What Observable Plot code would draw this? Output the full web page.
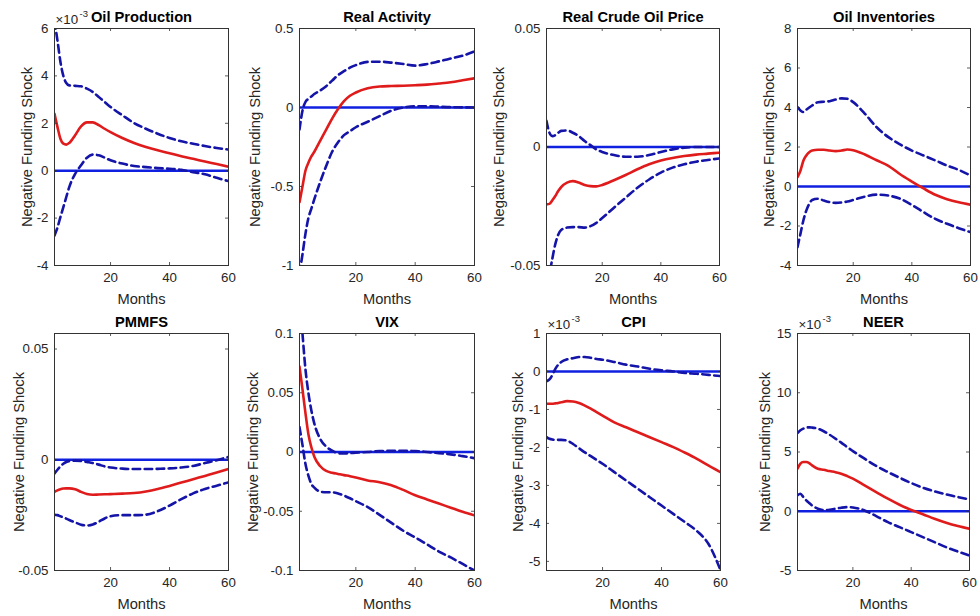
<!DOCTYPE html>
<html>
<head>
<meta charset="utf-8">
<script src="https://cdn.jsdelivr.net/npm/d3@7"></script>
<script src="https://cdn.jsdelivr.net/npm/@observablehq/plot@0.6"></script>
<style>
  body { margin: 0; background: #fff; }
  #chart { position: relative; width: 980px; height: 616px; overflow: hidden; background: #fff; }
  #chart svg { position: absolute; }
</style>
</head>
<body>
<div id="chart"></div>
<script>
// ---------- data ----------
const months = [1, 2, 3, 4, 5, 6, 8, 10, 12, 14, 16, 18, 20, 24, 28, 32, 36, 40, 44, 48, 52, 56, 60];
const xTicks = [20, 40, 60];
const titles = ["Oil Production", "Real Activity", "Real Crude Oil Price", "Oil Inventories", "PMMFS", "VIX", "CPI", "NEER"];
const exponents = ["-3", null, null, null, null, null, "-3", "-3"];
const yDomains = [[-4, 6], [-1, 0.5], [-0.05, 0.05], [-4, 8], [-0.05, 0.057], [-0.1, 0.1], [-5.24, 1], [-5, 15]];
const yTicks = [
  [-4, -2, 0, 2, 4, 6],
  [-1, -0.5, 0, 0.5],
  [-0.05, 0, 0.05],
  [-4, -2, 0, 2, 4, 6, 8],
  [-0.05, 0, 0.05],
  [-0.1, -0.05, 0, 0.05, 0.1],
  [-5, -4, -3, -2, -1, 0, 1],
  [-5, 0, 5, 10, 15]
];

// Oil Production (x10^-3)
const oilProdIrf   = [2.4, 1.85, 1.35, 1.14, 1.1, 1.17, 1.5, 1.87, 2.04, 2.04, 1.92, 1.77, 1.63, 1.38, 1.17, 1.0, 0.86, 0.74, 0.61, 0.5, 0.39, 0.28, 0.17];
const oilProdUpper = [6.3, 5.5, 4.6, 4.0, 3.7, 3.6, 3.58, 3.56, 3.46, 3.32, 3.11, 2.9, 2.69, 2.34, 2.01, 1.77, 1.56, 1.38, 1.24, 1.14, 1.04, 0.96, 0.89];
const oilProdLower = [-2.73, -2.4, -1.96, -1.54, -1.11, -0.69, -0.13, 0.23, 0.55, 0.68, 0.65, 0.55, 0.44, 0.3, 0.2, 0.15, 0.11, 0.08, 0.04, -0.06, -0.15, -0.3, -0.44];

// Real Activity
const realActIrf   = [-0.6, -0.5, -0.4, -0.35, -0.31, -0.28, -0.21, -0.14, -0.07, -0.01, 0.04, 0.074, 0.095, 0.122, 0.133, 0.136, 0.138, 0.141, 0.145, 0.152, 0.16, 0.172, 0.185];
const realActUpper = [-0.14, -0.02, 0.035, 0.055, 0.07, 0.085, 0.108, 0.135, 0.17, 0.205, 0.23, 0.252, 0.268, 0.289, 0.29, 0.284, 0.275, 0.265, 0.275, 0.292, 0.31, 0.328, 0.355];
const realActLower = [-1.05, -0.93, -0.8, -0.7, -0.64, -0.58, -0.47, -0.37, -0.28, -0.22, -0.175, -0.15, -0.125, -0.09, -0.055, -0.02, 0.0, 0.008, 0.008, 0.005, 0.002, 0.001, 0.0];

// Real Crude Oil Price
const oilPriceIrf   = [-0.0242, -0.024, -0.0225, -0.0207, -0.0186, -0.0169, -0.015, -0.0144, -0.015, -0.016, -0.0165, -0.0166, -0.016, -0.014, -0.0118, -0.0094, -0.0073, -0.0057, -0.0046, -0.0038, -0.0032, -0.0028, -0.0024];
const oilPriceUpper = [0.011, 0.006, 0.0046, 0.005, 0.006, 0.0068, 0.007, 0.006, 0.0046, 0.0025, 0.0008, -0.001, -0.0021, -0.0034, -0.0041, -0.0041, -0.0034, -0.0021, -0.001, -0.0003, 0.0, 0.0, 0.0];
const oilPriceLower = [-0.062, -0.054, -0.047, -0.041, -0.037, -0.035, -0.034, -0.0338, -0.0338, -0.034, -0.0334, -0.032, -0.030, -0.0256, -0.0214, -0.0172, -0.0137, -0.0108, -0.0087, -0.0073, -0.0062, -0.0055, -0.0048];

// Oil Inventories
const invIrf   = [0.47, 0.8, 1.3, 1.57, 1.74, 1.82, 1.86, 1.86, 1.82, 1.79, 1.82, 1.87, 1.84, 1.62, 1.33, 1.05, 0.62, 0.25, -0.1, -0.42, -0.64, -0.8, -0.92];
const invUpper = [4.02, 3.85, 3.77, 3.89, 4.0, 4.1, 4.27, 4.29, 4.32, 4.4, 4.46, 4.44, 4.27, 3.68, 3.0, 2.5, 2.13, 1.82, 1.57, 1.32, 1.06, 0.84, 0.56];
const invLower = [-3.07, -2.4, -1.72, -1.22, -0.88, -0.68, -0.62, -0.71, -0.79, -0.83, -0.81, -0.76, -0.68, -0.51, -0.41, -0.46, -0.62, -0.93, -1.3, -1.64, -1.89, -2.11, -2.31];

// PMMFS
const pmmfsIrf   = [-0.0145, -0.0138, -0.0133, -0.013, -0.0129, -0.0129, -0.0133, -0.0145, -0.0155, -0.0158, -0.0157, -0.0156, -0.0155, -0.0153, -0.015, -0.0143, -0.0132, -0.0118, -0.0103, -0.0088, -0.0073, -0.0058, -0.0042];
const pmmfsUpper = [-0.0062, -0.0045, -0.003, -0.0018, -0.001, -0.0006, -0.0004, -0.0005, -0.001, -0.0015, -0.0022, -0.003, -0.0035, -0.004, -0.0042, -0.0042, -0.0041, -0.0039, -0.0035, -0.0028, -0.0015, -0.0002, 0.0013];
const pmmfsLower = [-0.0248, -0.025, -0.0255, -0.026, -0.0266, -0.0272, -0.0283, -0.0293, -0.0297, -0.0292, -0.028, -0.0265, -0.0255, -0.025, -0.025, -0.0248, -0.0232, -0.0207, -0.0178, -0.0152, -0.0132, -0.0117, -0.0102];

// VIX
const vixIrf   = [0.072, 0.053, 0.033, 0.015, 0.004, -0.004, -0.012, -0.016, -0.0175, -0.0185, -0.0195, -0.0204, -0.0215, -0.024, -0.0255, -0.028, -0.032, -0.0365, -0.04, -0.0435, -0.047, -0.0505, -0.0535];
const vixUpper = [0.13, 0.1, 0.07, 0.05, 0.035, 0.024, 0.011, 0.0045, 0.0012, -0.001, -0.0013, -0.001, -0.0005, 0.0, 0.0008, 0.001, 0.001, 0.0008, 0.0, -0.001, -0.002, -0.0035, -0.0052];
const vixLower = [0.021, 0.006, -0.01, -0.02, -0.027, -0.03, -0.0335, -0.034, -0.034, -0.035, -0.0368, -0.039, -0.0415, -0.0465, -0.053, -0.0598, -0.0665, -0.072, -0.078, -0.084, -0.089, -0.0945, -0.1];

// CPI (x10^-3)
const cpiIrf   = [-0.85, -0.85, -0.85, -0.84, -0.83, -0.81, -0.78, -0.79, -0.83, -0.9, -0.98, -1.07, -1.16, -1.34, -1.47, -1.6, -1.73, -1.86, -1.99, -2.14, -2.3, -2.48, -2.65];
const cpiUpper = [-0.26, -0.21, -0.09, 0.07, 0.18, 0.25, 0.32, 0.35, 0.38, 0.38, 0.36, 0.33, 0.31, 0.25, 0.18, 0.13, 0.07, 0.03, 0.0, -0.04, -0.06, -0.09, -0.12];
const cpiLower = [-1.73, -1.77, -1.79, -1.8, -1.8, -1.8, -1.82, -1.91, -2.02, -2.13, -2.23, -2.33, -2.43, -2.65, -2.87, -3.09, -3.31, -3.53, -3.75, -3.97, -4.2, -4.55, -5.23];

// NEER (x10^-3)
const neerIrf   = [3.59, 4.01, 4.15, 4.15, 4.07, 3.87, 3.59, 3.5, 3.39, 3.3, 3.17, 2.97, 2.75, 2.18, 1.62, 1.06, 0.55, 0.1, -0.25, -0.63, -0.97, -1.25, -1.48];
const neerUpper = [6.6, 6.83, 6.97, 7.06, 7.08, 7.06, 6.97, 6.75, 6.46, 6.13, 5.79, 5.42, 5.08, 4.44, 3.82, 3.31, 2.83, 2.38, 1.99, 1.68, 1.42, 1.2, 1.0];
const neerLower = [1.34, 1.48, 1.2, 0.92, 0.7, 0.49, 0.21, 0.1, 0.13, 0.21, 0.3, 0.35, 0.32, 0.07, -0.41, -0.92, -1.34, -1.76, -2.18, -2.61, -3.03, -3.4, -3.73];

const irfs   = [oilProdIrf, realActIrf, oilPriceIrf, invIrf, pmmfsIrf, vixIrf, cpiIrf, neerIrf];
const uppers = [oilProdUpper, realActUpper, oilPriceUpper, invUpper, pmmfsUpper, vixUpper, cpiUpper, neerUpper];
const lowers = [oilProdLower, realActLower, oilPriceLower, invLower, pmmfsLower, vixLower, cpiLower, neerLower];

// ---------- layout (pixel boxes of each axes: left, top, right, bottom) ----------
const boxes = [
  [54, 28, 228, 265], [299, 28, 474, 265], [546, 28, 719, 265], [797, 28, 970, 265],
  [54, 333, 228, 570], [299, 333, 474, 570], [546, 333, 720, 570], [797, 333, 969, 570]
];
const yLabelOffsets = [27, 44, 47, 28, 35, 46, 28, 32];

const RED = "#e01b1b", ZERO = "#1020e0", BAND = "#1414a8", INK = "#333333";
const FONT = "'Liberation Sans', Arial, Helvetica, sans-serif";

const chart = document.getElementById("chart");

titles.forEach((title, k) => {
  const [L, T, R, B] = boxes[k];
  const ML = 64, MR = 12, MT = 36, MB = 48;
  const w = R - L, h = B - T;
  const rows = months.map((m, i) => ({m, irf: irfs[k][i], up: uppers[k][i], lo: lowers[k][i]}));
  const fmt = d => String(d);
  const marks = [
    Plot.ruleY([0], {stroke: ZERO, strokeWidth: 2.6}),
    Plot.lineY(rows, {x: "m", y: "irf", stroke: RED, strokeWidth: 2.6, curve: "monotone-x", clip: true}),
    Plot.lineY(rows, {x: "m", y: "up", stroke: BAND, strokeWidth: 2.6, strokeDasharray: "7.5,4.5", curve: "monotone-x", clip: true}),
    Plot.lineY(rows, {x: "m", y: "lo", stroke: BAND, strokeWidth: 2.6, strokeDasharray: "7.5,4.5", curve: "monotone-x", clip: true}),
    Plot.tickY(yTicks[k], {y: d => d, stroke: INK, strokeWidth: 0.8, insetRight: w - 3}),
    Plot.tickY(yTicks[k], {y: d => d, stroke: INK, strokeWidth: 0.8, insetLeft: w - 3}),
    Plot.tickX(xTicks, {x: d => d, stroke: INK, strokeWidth: 0.8, insetTop: h - 3}),
    Plot.tickX(xTicks, {x: d => d, stroke: INK, strokeWidth: 0.8, insetBottom: h - 3}),
    Plot.frame({stroke: INK, strokeWidth: 1}),
    Plot.axisX({ticks: xTicks, tickSize: 0, tickPadding: 7, tickFormat: fmt, label: null, fontSize: 13.3}),
    Plot.axisY({ticks: yTicks[k], tickSize: 0, tickPadding: 6, tickFormat: fmt, label: null, fontSize: 13.3}),
    Plot.text([title], {text: d => d, frameAnchor: "top", dy: -11, textAnchor: "middle", lineAnchor: "middle", fontSize: 14.7, fontWeight: "bold", fill: "#000"}),
    Plot.text(["Months"], {text: d => d, frameAnchor: "bottom", dy: 34, textAnchor: "middle", lineAnchor: "middle", fontSize: 14.7}),
    Plot.text(["Negative Funding Shock"], {text: d => d, frameAnchor: "left", dx: -yLabelOffsets[k], rotate: -90, textAnchor: "middle", lineAnchor: "middle", fontSize: 14.7})
  ];
  if (exponents[k]) {
    marks.push(Plot.text(["×10"], {text: d => d, frameAnchor: "top-left", textAnchor: "start", dx: 1, dy: -9, lineAnchor: "middle", fontSize: 13.3}));
    marks.push(Plot.text([exponents[k]], {text: d => d, frameAnchor: "top-left", textAnchor: "start", dx: 25, dy: -15, lineAnchor: "middle", fontSize: 9.5}));
  }
  const svg = Plot.plot({
    width: ML + w + MR,
    height: MT + h + MB,
    marginLeft: ML, marginRight: MR, marginTop: MT, marginBottom: MB,
    x: {domain: [1, 60]},
    y: {domain: yDomains[k]},
    style: {fontFamily: FONT, fontSize: "13.3px", color: "#262626", background: "transparent", overflow: "visible"},
    marks
  });
  svg.style.left = (L - ML) + "px";
  svg.style.top = (T - MT) + "px";
  chart.appendChild(svg);
});
</script>
</body>
</html>
